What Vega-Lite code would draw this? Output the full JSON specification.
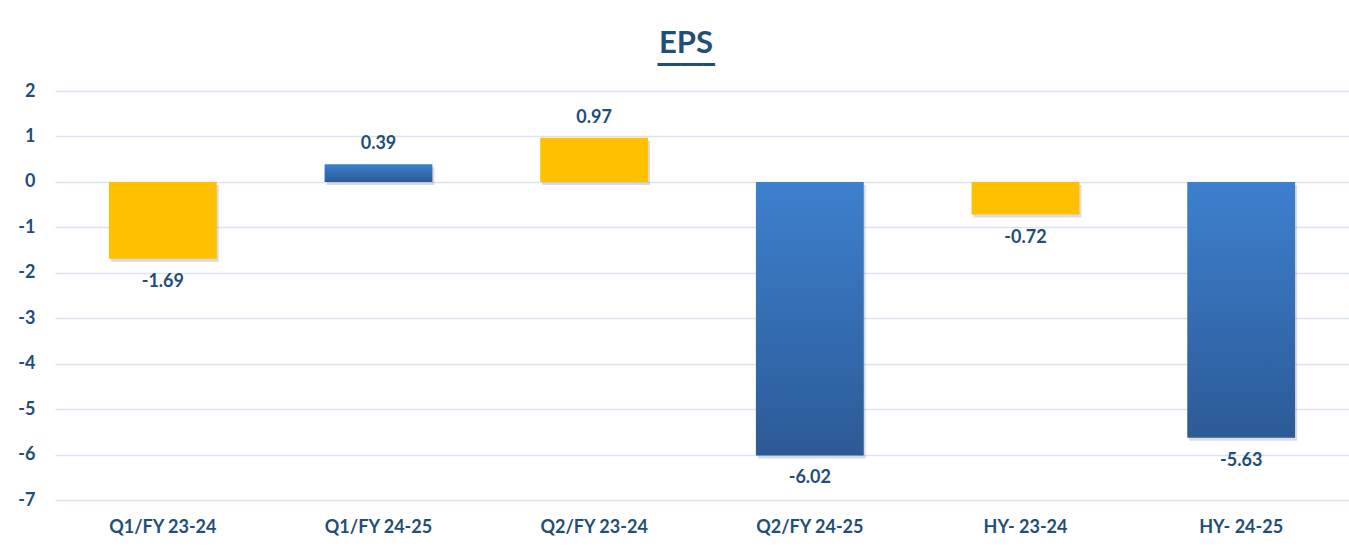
{
  "$schema": "https://vega.github.io/schema/vega-lite/v6.json",
  "width": 1294,
  "height": 409,
  "autosize": {"type": "none"},
  "padding": {"left": 55, "top": 91, "right": 0, "bottom": 47},
  "background": "white",
  "title": {
    "text": "EPS",
    "subtitle": "━━━━━",
    "anchor": "middle",
    "frame": "group",
    "dx": -16,
    "offset": 6,
    "font": "Lato",
    "fontSize": 31,
    "fontWeight": "bold",
    "color": "#1F4E79",
    "subtitleFont": "DejaVu Sans",
    "subtitleFontSize": 19,
    "subtitleColor": "#1F4E79",
    "subtitlePadding": -4
  },
  "config": {
    "view": {"stroke": null},
    "font": "Lato"
  },
  "data": {
    "values": [
      {"period": "Q1/FY 23-24", "year": "FY 23-24", "eps": -1.69},
      {"period": "Q1/FY 24-25", "year": "FY 24-25", "eps": 0.39},
      {"period": "Q2/FY 23-24", "year": "FY 23-24", "eps": 0.97},
      {"period": "Q2/FY 24-25", "year": "FY 24-25", "eps": -6.02},
      {"period": "HY- 23-24", "year": "FY 23-24", "eps": -0.72},
      {"period": "HY- 24-25", "year": "FY 24-25", "eps": -5.63}
    ]
  },
  "transform": [
    {"calculate": "replace(format(datum.eps, '.2f'), '\u2212', '-')", "as": "label"}
  ],
  "encoding": {
    "x": {
      "field": "period",
      "type": "nominal",
      "sort": null,
      "scale": {"paddingInner": 0.5, "paddingOuter": 0.25},
      "axis": {
        "title": null,
        "labelAngle": 0,
        "domain": false,
        "ticks": false,
        "labelPadding": 18,
        "labelFont": "Lato",
        "labelFontSize": 18,
        "labelFontWeight": "bold",
        "labelColor": "#1F4E79"
      }
    },
    "y": {
      "field": "eps",
      "type": "quantitative",
      "scale": {"domain": [-7, 2], "nice": false},
      "axis": {
        "title": null,
        "values": [-7, -6, -5, -4, -3, -2, -1, 0, 1, 2],
        "labelExpr": "replace(datum.label, '\u2212', '-')",
        "domain": false,
        "ticks": false,
        "labelPadding": 20,
        "labelFont": "Lato",
        "labelFontSize": 18,
        "labelFontWeight": "bold",
        "labelColor": "#1F4E79",
        "gridColor": "#D9E3F1",
        "gridWidth": 1.5
      }
    }
  },
  "layer": [
    {
      "mark": {"type": "bar", "color": "#8c8c8c", "opacity": 0.3, "xOffset": 2, "yOffset": 3}
    },
    {
      "transform": [{"filter": "datum.year === 'FY 23-24'"}],
      "mark": {"type": "bar", "color": "#FFC000"}
    },
    {
      "transform": [{"filter": "datum.year === 'FY 24-25'"}],
      "mark": {
        "type": "bar",
        "color": {
          "gradient": "linear",
          "x1": 0, "y1": 0, "x2": 0, "y2": 1,
          "stops": [
            {"offset": 0, "color": "#3D80CE"},
            {"offset": 1, "color": "#2C5A96"}
          ]
        }
      }
    },
    {
      "transform": [{"filter": "datum.eps >= 0"}],
      "mark": {"type": "text", "baseline": "middle", "dy": -20, "font": "Lato", "fontSize": 18, "fontWeight": "bold", "color": "#1F4E79"},
      "encoding": {"text": {"field": "label", "type": "nominal"}}
    },
    {
      "transform": [{"filter": "datum.eps < 0"}],
      "mark": {"type": "text", "baseline": "middle", "dy": 23, "font": "Lato", "fontSize": 18, "fontWeight": "bold", "color": "#1F4E79"},
      "encoding": {"text": {"field": "label", "type": "nominal"}}
    }
  ]
}
